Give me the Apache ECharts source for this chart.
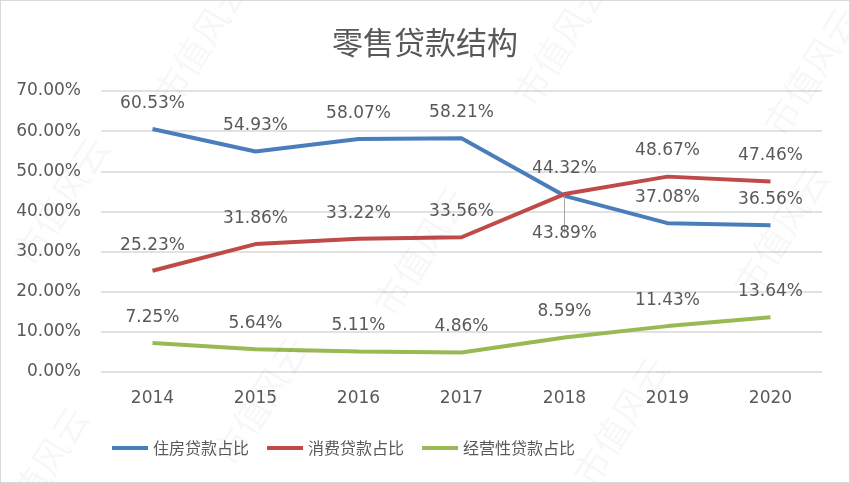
<!DOCTYPE html>
<html>
<head>
<meta charset="utf-8">
<script src="https://cdn.jsdelivr.net/npm/echarts@6/dist/echarts.min.js"></script>
<style>
  html, body { margin: 0; padding: 0; background: #fff; }
  #main { width: 848px; height: 481px; border: 1px solid #d9d9d9; }
</style>
</head>
<body>
<div id="main"></div>
<script>
const years = ["2014", "2015", "2016", "2017", "2018", "2019", "2020"];
const housing = [60.53, 54.93, 58.07, 58.21, 43.89, 37.08, 36.56];
const consumer = [25.23, 31.86, 33.22, 33.56, 44.32, 48.67, 47.46];
const business = [7.25, 5.64, 5.11, 4.86, 8.59, 11.43, 13.64];
const seriesNames = ["住房贷款占比", "消费贷款占比", "经营性贷款占比"];

const txt = "#595959";
const font = "'DejaVu Sans', 'Noto Sans CJK SC', sans-serif";

// faint watermark tiles
const marks = [];
[[200, 40], [560, 40], [810, 70], [60, 200], [420, 250], [780, 230], [260, 400], [620, 420], [40, 470]].forEach(function (p) {
  marks.push({
    type: "text", x: p[0], y: p[1], rotation: Math.PI * 0.32, z: 100,
    style: { text: "市值风云", fill: "rgba(0,0,0,0.03)", font: "36px 'Noto Sans CJK SC'", align: "center", verticalAlign: "middle" }
  });
});

function pct(p) { return p.value.toFixed(2) + "%"; }

const labelStyle = { show: true, position: "top", distance: 17, color: txt, fontSize: 17, fontFamily: font, formatter: pct };

const chart = echarts.init(document.getElementById("main"));
chart.setOption({
  animation: false,
  textStyle: { fontFamily: font },
  title: {
    text: "零售贷款结构", left: "center", top: 21,
    textStyle: { color: txt, fontSize: 31, fontWeight: "normal", fontFamily: "'Noto Sans CJK SC'" }
  },
  graphic: marks,
  legend: {
    data: seriesNames, left: 106, top: 434,
    itemWidth: 36, itemHeight: 4, itemGap: 18, icon: "rect",
    textStyle: { color: txt, fontSize: 16, fontFamily: "'Noto Sans CJK SC'" }
  },
  grid: { left: 100, right: 27, top: 90, bottom: 110 },
  xAxis: {
    type: "category", data: years, boundaryGap: true,
    axisLine: { show: false }, axisTick: { show: false },
    axisLabel: { color: txt, fontSize: 17, margin: 18 }
  },
  yAxis: {
    type: "value", min: 0, max: 70, interval: 10,
    axisLabel: { color: txt, fontSize: 17, margin: 20, formatter: function (v) { return v.toFixed(2) + "%"; } },
    splitLine: { lineStyle: { color: "#d9d9d9", width: 1.5 } }
  },
  series: [
    {
      name: seriesNames[0], type: "line", data: housing.map(function (v, i) {
        if (i === 4) return { value: v, label: { position: "bottom", distance: 29 }, labelLine: { show: true, lineStyle: { color: "#a6a6a6" } } };
        return v;
      }),
      symbol: "circle", symbolSize: 0.1, showSymbol: true,
      lineStyle: { color: "#4a7ebb", width: 4 }, itemStyle: { color: "#4a7ebb" },
      label: labelStyle
    },
    {
      name: seriesNames[1], type: "line", data: consumer,
      symbol: "circle", symbolSize: 0.1, showSymbol: true,
      lineStyle: { color: "#be4b48", width: 4 }, itemStyle: { color: "#be4b48" },
      label: labelStyle
    },
    {
      name: seriesNames[2], type: "line", data: business,
      symbol: "circle", symbolSize: 0.1, showSymbol: true,
      lineStyle: { color: "#98b954", width: 4 }, itemStyle: { color: "#98b954" },
      label: labelStyle
    }
  ]
});
</script>
</body>
</html>
